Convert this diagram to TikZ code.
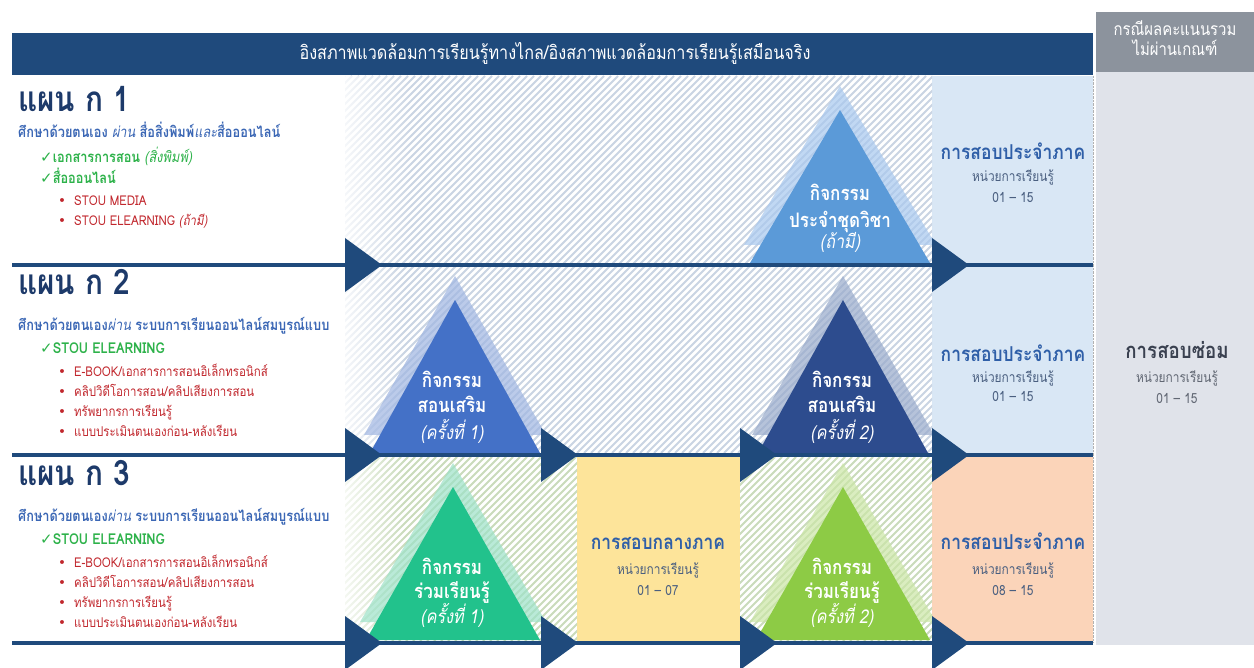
\documentclass[tikz,border=0pt]{standalone}
\usepackage{fontspec}
\setmainfont[Script=Thai,FakeStretch=0.85]{Loma}
\newfontfamily\dejavu{DejaVu Sans}
\usetikzlibrary{fadings}
\definecolor{navy}{HTML}{1F4A7C}
\definecolor{hdrgray}{HTML}{8C939D}
\definecolor{colgray}{HTML}{E0E3EA}
\definecolor{lblue}{HTML}{D9E7F5}
\definecolor{peach}{HTML}{FBD4B9}
\definecolor{yell}{HTML}{FDE49A}
\definecolor{titlec}{HTML}{1D3A6A}
\definecolor{subc}{HTML}{3B67B5}
\definecolor{grn}{HTML}{2DB24A}
\definecolor{redc}{HTML}{C1272D}
\definecolor{examc}{HTML}{2F5FA8}
\definecolor{unitc}{HTML}{4A5F80}
\definecolor{repc}{HTML}{3A4150}
\definecolor{hatchb}{HTML}{CAD4E3}
\definecolor{hatchg}{HTML}{CADBBB}
\definecolor{tA}{HTML}{5B9AD8}\definecolor{tAs}{HTML}{A8C8EE}
\definecolor{tB}{HTML}{4471C7}\definecolor{tBs}{HTML}{A0B6E2}
\definecolor{tC}{HTML}{2D4C8E}\definecolor{tCs}{HTML}{98AACB}
\definecolor{tD}{HTML}{22C28C}\definecolor{tDs}{HTML}{9DE2C8}
\definecolor{tE}{HTML}{8DCB45}\definecolor{tEs}{HTML}{CBE6A6}
\tikzfading[name=fadeR, left color=transparent!0, middle color=transparent!15, right color=transparent!100]
\newcommand\acttri[6]{% apex x, apex y, base y, half width, fill, shadow
  \fill[#6, opacity=0.7] ({#1},{#2-24}) -- ({#1-#4-6},{#3-18}) -- ({#1+#4+6},{#3-18}) -- cycle;
  \fill[#5] ({#1},{#2}) -- ({#1-#4},{#3}) -- ({#1+#4},{#3}) -- cycle;
}
\newcommand\playarr[2]{\fill[navy] ({#1},{#2-27}) -- ({#1},{#2+27}) -- ({#1+37},{#2}) -- cycle;}
\tikzset{
 ttl/.style={anchor=base west, inner sep=0, text=titlec, font=\fontsize{35}{40}\selectfont\bfseries},
 sub/.style={anchor=base west, inner sep=0, text=subc, font=\fontsize{15}{18}\selectfont},
 chk/.style={anchor=base west, inner sep=0, text=grn, font=\fontsize{15}{18}\selectfont\bfseries},
 bul/.style={anchor=base west, inner sep=0, text=redc, font=\fontsize{13.5}{16}\selectfont},
 tritxt/.style={anchor=base, inner sep=0, text=white, font=\fontsize{20}{24}\selectfont\bfseries},
 triit/.style={anchor=base, inner sep=0, text=white, font=\fontsize{19}{24}\selectfont\itshape},
 exam/.style={anchor=base, inner sep=0, text=examc, font=\fontsize{20.5}{24}\selectfont\bfseries},
 unit/.style={anchor=base, inner sep=0, text=unitc, font=\fontsize{14}{16}\selectfont},
 stripe/.style={line width=2pt},
 tl/.style={navy, line width=4pt},
}
\begin{document}
\begin{tikzpicture}[x=1pt,y=-1pt]
\useasboundingbox (0,0) rectangle (1254,668);
\fill[white] (0,0) rectangle (1254,668);
% columns and boxes
\fill[colgray] (1096,72) rectangle (1254,645);
\fill[hdrgray] (1096,12) rectangle (1254,72);
\fill[lblue] (932,76) rectangle (1093,455);
\fill[peach] (932,457) rectangle (1093,642);
\fill[yell] (577,457) rectangle (740,642);
\draw[gray!60, densely dotted] (1093,76) -- (1093,642);
% hatches
\begin{scope}
\clip (345,76) rectangle (932,453);
\foreach \s in {-32,-25,...,932} \draw[stripe, hatchb] (\s,453) -- ({\s+377},76);
\end{scope}
\begin{scope}
\clip (345,457) rectangle (577,641);
\foreach \s in {161,168,...,577} \draw[stripe, hatchg] (\s,641) -- ({\s+184},457);
\end{scope}
\begin{scope}
\clip (740,457) rectangle (932,641);
\foreach \s in {556,563,...,932} \draw[stripe, hatchg] (\s,641) -- ({\s+184},457);
\end{scope}
\fill[white, path fading=fadeR] (330,76) rectangle (412,263);
\fill[white, path fading=fadeR] (330,267) rectangle (405,453);
\fill[white, path fading=fadeR] (330,457) rectangle (405,641);
% header
\fill[navy] (12,33) rectangle (1093,75);
\node[inner sep=0, anchor=base, text=white, font=\fontsize{19}{22}\selectfont] (hdr) at (555,60) {อิงสภาพแวดล้อมการเรียนรู้ทางไกล/อิงสภาพแวดล้อมการเรียนรู้เสมือนจริง};
\node[inner sep=0, anchor=base, text=white, font=\fontsize{17.5}{20}\selectfont] (g1) at (1175,36) {กรณีผลคะแนนรวม};
\node[inner sep=0, anchor=base, text=white, font=\fontsize{17.5}{20}\selectfont] (g2) at (1175,56) {ไม่ผ่านเกณฑ์};
% triangles
\acttri{840}{110}{263}{90}{tA}{tAs}
\acttri{455}{300}{453}{85}{tB}{tBs}
\acttri{843}{300}{453}{85}{tC}{tCs}
\acttri{453}{487}{640}{87}{tD}{tDs}
\acttri{843}{487}{640}{87}{tE}{tEs}
% timeline lines
\coordinate (l1a) at (12,265); \coordinate (l1b) at (1093,265);
\coordinate (l2a) at (12,455); \coordinate (l2b) at (1093,455);
\coordinate (l3a) at (12,643); \coordinate (l3b) at (1093,643);
\draw[tl] (l1a) -- (l1b);
\draw[tl] (l2a) -- (l2b);
\draw[tl] (l3a) -- (l3b);
\playarr{345}{265}\playarr{932}{265}
\playarr{345}{455}\playarr{541}{455}\playarr{740}{455}\playarr{932}{455}
\playarr{345}{643}\playarr{541}{643}\playarr{740}{643}\playarr{932}{643}
% plan 1
\node[ttl] (p1) at (18,112) {แผน ก 1};
\node[sub] (p1s) at (18,138) {\bfseries ศึกษาด้วยตนเอง {\mdseries\itshape ผ่าน} สื่อสิ่งพิมพ์{\mdseries\itshape และ}สื่อออนไลน์};
\node[chk] (p1c1) at (40,163) {{\dejavu\mdseries ✓}เอกสารการสอน {\mdseries\itshape (สิ่งพิมพ์)}};
\node[chk] (p1c2) at (40,184) {{\dejavu\mdseries ✓}สื่อออนไลน์};
\node[bul] (p1b1) at (58,206) {{\dejavu •}\hspace{8pt}STOU MEDIA};
\node[bul] (p1b2) at (58,226) {{\dejavu •}\hspace{8pt}STOU ELEARNING {\itshape (ถ้ามี)}};
% plan 2
\node[ttl] (p2) at (18,295) {แผน ก 2};
\node[sub] (p2s) at (18,331) {\bfseries ศึกษาด้วยตนเอง{\mdseries\itshape ผ่าน} ระบบการเรียนออนไลน์สมบูรณ์แบบ};
\node[chk] (p2c1) at (40,354) {{\dejavu\mdseries ✓}STOU ELEARNING};
\node[bul] (p2b1) at (58,377) {{\dejavu •}\hspace{8pt}E-BOOK/เอกสารการสอนอิเล็กทรอนิกส์};
\node[bul] (p2b2) at (58,397) {{\dejavu •}\hspace{8pt}คลิปวิดีโอการสอน/คลิปเสียงการสอน};
\node[bul] (p2b3) at (58,417) {{\dejavu •}\hspace{8pt}ทรัพยากรการเรียนรู้};
\node[bul] (p2b4) at (58,437) {{\dejavu •}\hspace{8pt}แบบประเมินตนเองก่อน-หลังเรียน};
% plan 3
\node[ttl] (p3) at (18,485) {แผน ก 3};
\node[sub] (p3s) at (18,521) {\bfseries ศึกษาด้วยตนเอง{\mdseries\itshape ผ่าน} ระบบการเรียนออนไลน์สมบูรณ์แบบ};
\node[chk] (p3c1) at (40,544) {{\dejavu\mdseries ✓}STOU ELEARNING};
\node[bul] (p3b1) at (58,567) {{\dejavu •}\hspace{8pt}E-BOOK/เอกสารการสอนอิเล็กทรอนิกส์};
\node[bul] (p3b2) at (58,587) {{\dejavu •}\hspace{8pt}คลิปวิดีโอการสอน/คลิปเสียงการสอน};
\node[bul] (p3b3) at (58,607) {{\dejavu •}\hspace{8pt}ทรัพยากรการเรียนรู้};
\node[bul] (p3b4) at (58,627) {{\dejavu •}\hspace{8pt}แบบประเมินตนเองก่อน-หลังเรียน};
% triangle texts
\node[tritxt] (t1a) at (840,201) {กิจกรรม};
\node[tritxt] (t1b) at (840,228) {ประจำชุดวิชา};
\node[triit] (t1c) at (840,249) {(ถ้ามี)};
\node[tritxt] (t2a) at (452,388) {กิจกรรม};
\node[tritxt] (t2b) at (452,413) {สอนเสริม};
\node[triit] (t2c) at (452,439) {(ครั้งที่ 1)};
\node[tritxt] (t3a) at (842,388) {กิจกรรม};
\node[tritxt] (t3b) at (842,413) {สอนเสริม};
\node[triit] (t3c) at (842,439) {(ครั้งที่ 2)};
\node[tritxt] (t4a) at (452,574) {กิจกรรม};
\node[tritxt] (t4b) at (452,598) {ร่วมเรียนรู้};
\node[triit] (t4c) at (452,623) {(ครั้งที่ 1)};
\node[tritxt] (t5a) at (842,574) {กิจกรรม};
\node[tritxt] (t5b) at (842,598) {ร่วมเรียนรู้};
\node[triit] (t5c) at (842,623) {(ครั้งที่ 2)};
% exam boxes
\node[exam] (e1a) at (1013,160) {การสอบประจำภาค};
\node[unit] (e1b) at (1013,182) {หน่วยการเรียนรู้};
\node[unit] (e1c) at (1013,203) {01 -- 15};
\node[exam] (e2a) at (1013,362) {การสอบประจำภาค};
\node[unit] (e2b) at (1013,383) {หน่วยการเรียนรู้};
\node[unit] (e2c) at (1013,402) {01 -- 15};
\node[exam] (e3a) at (658,549) {การสอบกลางภาค};
\node[unit] (e3b) at (658,574) {หน่วยการเรียนรู้};
\node[unit] (e3c) at (658,595) {01 -- 07};
\node[exam] (e4a) at (1013,549) {การสอบประจำภาค};
\node[unit] (e4b) at (1013,574) {หน่วยการเรียนรู้};
\node[unit] (e4c) at (1013,595) {08 -- 15};
\node[exam, text=repc, font=\fontsize{22}{24}\selectfont\bfseries] (e5a) at (1177,359) {การสอบซ่อม};
\node[unit, text=repc!80] (e5b) at (1177,383) {หน่วยการเรียนรู้};
\node[unit, text=repc!80] (e5c) at (1177,403) {01 -- 15};
\end{tikzpicture}
\end{document}
